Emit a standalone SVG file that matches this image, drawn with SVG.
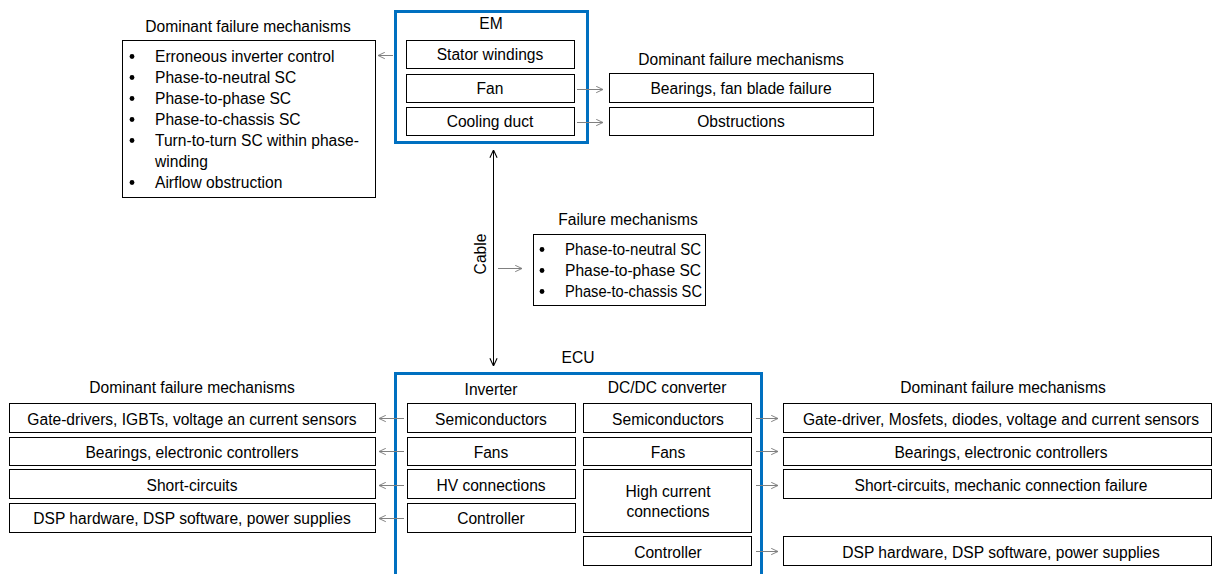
<svg xmlns="http://www.w3.org/2000/svg" width="1214" height="574" viewBox="0 0 1214 574">
<defs>
<marker id="ag" viewBox="0 0 10 10" refX="9.5" refY="5" markerWidth="8" markerHeight="8" markerUnits="userSpaceOnUse" orient="auto">
<path d="M1,1 L9.5,5 L1,9" fill="none" stroke="#808080" stroke-width="1.2"/>
</marker>
<marker id="ak" viewBox="0 0 10 10" refX="9.5" refY="5" markerWidth="9" markerHeight="9" markerUnits="userSpaceOnUse" orient="auto-start-reverse">
<path d="M1,1 L9.5,5 L1,9" fill="none" stroke="#000" stroke-width="1.2"/>
</marker>
</defs>
<style>
text{font-family:"Liberation Sans",Arial,sans-serif;font-size:15.6px;fill:#000}
.c{text-anchor:middle}
.b{fill:#fff;stroke:#000;stroke-width:1}
.blue{fill:none;stroke:#0070C0;stroke-width:3}
.g{stroke:#808080;stroke-width:1;fill:none;marker-end:url(#ag)}
.k{stroke:#000;stroke-width:1;fill:none;marker-start:url(#ak);marker-end:url(#ak)}
</style>
<rect width="1214" height="574" fill="#fff"/>

<g id="em">
<rect class="blue" x="395.5" y="11.5" width="192" height="131"/>
<text class="c" x="491" y="29">EM</text>
</g>
<g id="em-stator"><rect class="b" x="406.5" y="40.5" width="168" height="28"/><text class="c" x="490" y="60">Stator windings</text></g>
<g id="em-fan"><rect class="b" x="406.5" y="74.5" width="168" height="28"/><text class="c" x="490" y="94">Fan</text></g>
<g id="em-duct"><rect class="b" x="406.5" y="107.5" width="168" height="28"/><text class="c" x="490" y="127">Cooling duct</text></g>

<g id="em-fm">
<text class="c" x="248" y="32">Dominant failure mechanisms</text>
<rect class="b" x="122.5" y="40.5" width="253" height="157"/>
<g>
<circle cx="132" cy="56.5" r="2.4"/><text x="155" y="62">Erroneous inverter control</text>
<circle cx="132" cy="77.5" r="2.4"/><text x="155" y="83">Phase-to-neutral SC</text>
<circle cx="132" cy="98.5" r="2.4"/><text x="155" y="104">Phase-to-phase SC</text>
<circle cx="132" cy="119.5" r="2.4"/><text x="155" y="125">Phase-to-chassis SC</text>
<circle cx="132" cy="140.5" r="2.4"/><text x="155" y="146">Turn-to-turn SC within phase-</text>
<text x="155" y="167">winding</text>
<circle cx="132" cy="182.5" r="2.4"/><text x="155" y="188">Airflow obstruction</text>
</g>
</g>

<g id="em-fm-right">
<text class="c" x="741" y="65">Dominant failure mechanisms</text>
</g>
<g id="fm-fan"><rect class="b" x="609.5" y="73.5" width="264" height="29"/><text class="c" x="741" y="94">Bearings, fan blade failure</text></g>
<g id="fm-duct"><rect class="b" x="609.5" y="107.5" width="264" height="28"/><text class="c" x="741" y="127">Obstructions</text></g>

<g id="cable-fm">
<text class="c" x="628" y="225">Failure mechanisms</text>
<rect class="b" x="533.5" y="234.5" width="172" height="71"/>
<circle cx="542" cy="249.5" r="2.4"/><text x="565" y="255" textLength="136" lengthAdjust="spacingAndGlyphs">Phase-to-neutral SC</text>
<circle cx="542" cy="270.5" r="2.4"/><text x="565" y="276">Phase-to-phase SC</text>
<circle cx="542" cy="291.5" r="2.4"/><text x="565" y="297" textLength="137" lengthAdjust="spacingAndGlyphs">Phase-to-chassis SC</text>
</g>
<g id="cable-label"><text class="c" transform="translate(486,254) rotate(-90)">Cable</text></g>

<g id="ecu">
<rect class="blue" x="395.5" y="373.5" width="366" height="210"/>
<text class="c" x="578" y="363">ECU</text>
<text class="c" x="491" y="395">Inverter</text>
<text class="c" x="667" y="393">DC/DC converter</text>
</g>
<g id="inv-semi"><rect class="b" x="407.5" y="403.5" width="168" height="29"/><text class="c" x="491" y="425">Semiconductors</text></g>
<g id="inv-fans"><rect class="b" x="407.5" y="437.5" width="168" height="28"/><text class="c" x="491" y="458">Fans</text></g>
<g id="inv-hv"><rect class="b" x="407.5" y="469.5" width="168" height="29"/><text class="c" x="491" y="491">HV connections</text></g>
<g id="inv-ctrl"><rect class="b" x="407.5" y="503.5" width="168" height="29"/><text class="c" x="491" y="524">Controller</text></g>

<g id="dc-semi"><rect class="b" x="583.5" y="403.5" width="168" height="29"/><text class="c" x="668" y="425">Semiconductors</text></g>
<g id="dc-fans"><rect class="b" x="583.5" y="437.5" width="168" height="28"/><text class="c" x="668" y="458">Fans</text></g>
<g id="dc-hc"><rect class="b" x="583.5" y="469.5" width="168" height="63"/><text class="c" x="668" y="497">High current</text><text class="c" x="668" y="517">connections</text></g>
<g id="dc-ctrl"><rect class="b" x="583.5" y="536.5" width="168" height="29"/><text class="c" x="668" y="558">Controller</text></g>

<g id="inv-fm">
<text class="c" x="192" y="393">Dominant failure mechanisms</text>
</g>
<g id="inv-fm1"><rect class="b" x="9.5" y="403.5" width="366" height="29"/><text class="c" x="192" y="425">Gate-drivers, IGBTs, voltage an current sensors</text></g>
<g id="inv-fm2"><rect class="b" x="9.5" y="437.5" width="366" height="28"/><text class="c" x="192" y="458">Bearings, electronic controllers</text></g>
<g id="inv-fm3"><rect class="b" x="9.5" y="469.5" width="366" height="29"/><text class="c" x="192" y="491">Short-circuits</text></g>
<g id="inv-fm4"><rect class="b" x="9.5" y="503.5" width="366" height="29"/><text class="c" x="192" y="524">DSP hardware, DSP software, power supplies</text></g>

<g id="dc-fm">
<text class="c" x="1003" y="393">Dominant failure mechanisms</text>
</g>
<g id="dc-fm1"><rect class="b" x="783.5" y="403.5" width="428" height="29"/><text class="c" x="1001" y="425">Gate-driver, Mosfets, diodes, voltage and current sensors</text></g>
<g id="dc-fm2"><rect class="b" x="783.5" y="437.5" width="428" height="28"/><text class="c" x="1001" y="458">Bearings, electronic controllers</text></g>
<g id="dc-fm3"><rect class="b" x="783.5" y="469.5" width="428" height="29"/><text class="c" x="1001" y="491">Short-circuits, mechanic connection failure</text></g>
<g id="dc-fm4"><rect class="b" x="783.5" y="536.5" width="428" height="29"/><text class="c" x="1001" y="558">DSP hardware, DSP software, power supplies</text></g>

<g id="connectors">
<line class="g" x1="393" y1="55.5" x2="378" y2="55.5"/>
<line class="g" x1="577" y1="89.5" x2="603" y2="89.5"/>
<line class="g" x1="577" y1="122.5" x2="603" y2="122.5"/>
<line class="k" x1="493.5" y1="150" x2="493.5" y2="366"/>
<line class="g" x1="498" y1="268.5" x2="522" y2="268.5"/>
<line class="g" x1="404" y1="418.5" x2="379" y2="418.5"/>
<line class="g" x1="404" y1="451.5" x2="379" y2="451.5"/>
<line class="g" x1="404" y1="485.5" x2="379" y2="485.5"/>
<line class="g" x1="404" y1="518.5" x2="379" y2="518.5"/>
<line class="g" x1="756" y1="418.5" x2="778" y2="418.5"/>
<line class="g" x1="756" y1="451.5" x2="778" y2="451.5"/>
<line class="g" x1="756" y1="485.5" x2="778" y2="485.5"/>
<line class="g" x1="756" y1="551.5" x2="778" y2="551.5"/>
</g>
</svg>
